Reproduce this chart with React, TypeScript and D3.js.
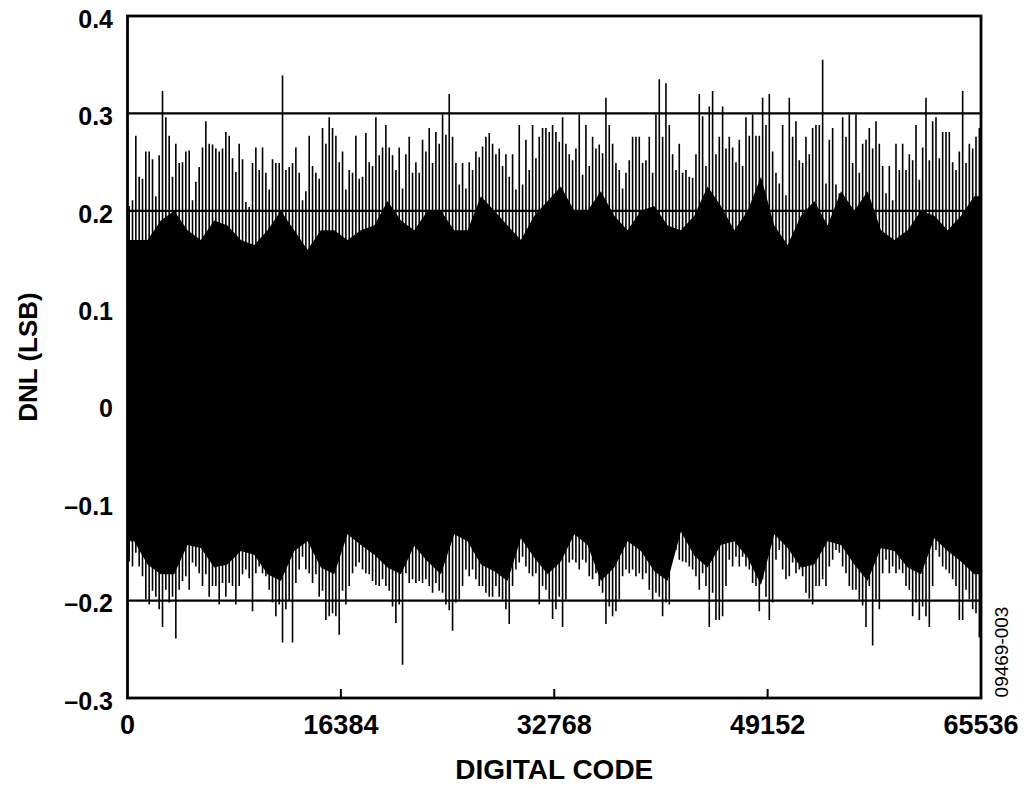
import React from 'react';
import * as d3 from 'd3';

// ---- data (DNL in LSB) ----
const CODE_MAX = 65536;
const BIN_CODES = 256; // each peak value covers 256 codes
const CORE_CODES = 1024; // each core value covers 1024 codes

const X_TICKS = [0, 16384, 32768, 49152, 65536];
const X_TICK_LABELS = ['0', '16384', '32768', '49152', '65536'];
const Y_TICKS = [-0.3, -0.2, -0.1, 0, 0.1, 0.2, 0.3, 0.4];
const Y_TICK_LABELS = ['–0.3', '–0.2', '–0.1', '0', '0.1', '0.2', '0.3', '0.4'];
const GRID_VALUES = [-0.2, -0.1, 0, 0.1, 0.2, 0.3];

// maximum DNL in each 256-code bin
const upperPeaks = [
  0.205, 0.211, 0.277, 0.235, 0.233, 0.261, 0.261, 0.253, 0.215, 0.257,
  0.323, 0.296, 0.277, 0.235, 0.269, 0.249, 0.250, 0.261, 0.262, 0.211,
  0.230, 0.245, 0.265, 0.292, 0.269, 0.268, 0.264, 0.261, 0.264, 0.281,
  0.277, 0.254, 0.240, 0.269, 0.253, 0.209, 0.204, 0.249, 0.265, 0.242,
  0.265, 0.239, 0.222, 0.253, 0.249, 0.249, 0.339, 0.242, 0.245, 0.249,
  0.265, 0.239, 0.211, 0.220, 0.277, 0.246, 0.239, 0.233, 0.285, 0.269,
  0.296, 0.285, 0.277, 0.250, 0.261, 0.222, 0.242, 0.239, 0.277, 0.233,
  0.235, 0.280, 0.250, 0.246, 0.296, 0.257, 0.265, 0.288, 0.265, 0.257,
  0.242, 0.265, 0.223, 0.258, 0.276, 0.239, 0.250, 0.239, 0.273, 0.261,
  0.285, 0.249, 0.281, 0.269, 0.299, 0.278, 0.320, 0.276, 0.249, 0.227,
  0.249, 0.223, 0.250, 0.242, 0.261, 0.255, 0.266, 0.276, 0.280, 0.269,
  0.258, 0.264, 0.246, 0.258, 0.235, 0.258, 0.222, 0.288, 0.227, 0.273,
  0.242, 0.288, 0.254, 0.276, 0.285, 0.285, 0.281, 0.288, 0.281, 0.271,
  0.296, 0.269, 0.258, 0.252, 0.264, 0.299, 0.237, 0.288, 0.246, 0.276,
  0.264, 0.268, 0.259, 0.316, 0.288, 0.269, 0.249, 0.242, 0.223, 0.239,
  0.252, 0.276, 0.276, 0.276, 0.249, 0.252, 0.276, 0.239, 0.299, 0.335,
  0.276, 0.331, 0.288, 0.258, 0.242, 0.269, 0.239, 0.242, 0.235, 0.234,
  0.258, 0.320, 0.297, 0.246, 0.307, 0.323, 0.258, 0.276, 0.307, 0.264,
  0.276, 0.265, 0.250, 0.273, 0.246, 0.296, 0.277, 0.299, 0.277, 0.277,
  0.316, 0.288, 0.320, 0.261, 0.239, 0.228, 0.288, 0.216, 0.316, 0.276,
  0.292, 0.252, 0.249, 0.276, 0.258, 0.285, 0.288, 0.288, 0.355, 0.228,
  0.273, 0.285, 0.227, 0.218, 0.296, 0.276, 0.299, 0.249, 0.299, 0.239,
  0.269, 0.273, 0.285, 0.264, 0.292, 0.269, 0.246, 0.218, 0.246, 0.211,
  0.269, 0.242, 0.269, 0.242, 0.258, 0.252, 0.288, 0.232, 0.265, 0.316,
  0.252, 0.292, 0.296, 0.254, 0.281, 0.281, 0.281, 0.250, 0.242, 0.261,
  0.323, 0.249, 0.269, 0.264, 0.276, 0.285,
];

// minimum DNL in each 256-code bin
const lowerPeaks = [
  -0.160, -0.165, -0.151, -0.165, -0.175, -0.199, -0.204, -0.190, -0.196, -0.209,
  -0.227, -0.189, -0.202, -0.196, -0.239, -0.189, -0.180, -0.175, -0.189, -0.161,
  -0.165, -0.172, -0.185, -0.173, -0.196, -0.185, -0.185, -0.204, -0.182, -0.196,
  -0.182, -0.185, -0.204, -0.185, -0.173, -0.168, -0.177, -0.211, -0.172, -0.165,
  -0.172, -0.175, -0.189, -0.202, -0.216, -0.204, -0.243, -0.209, -0.200, -0.243,
  -0.182, -0.168, -0.155, -0.168, -0.172, -0.182, -0.173, -0.196, -0.190, -0.220,
  -0.216, -0.213, -0.216, -0.235, -0.190, -0.204, -0.185, -0.172, -0.165, -0.161,
  -0.168, -0.172, -0.173, -0.180, -0.184, -0.185, -0.178, -0.185, -0.190, -0.206,
  -0.223, -0.204, -0.266, -0.172, -0.182, -0.178, -0.182, -0.180, -0.182, -0.178,
  -0.185, -0.192, -0.182, -0.190, -0.192, -0.204, -0.210, -0.231, -0.202, -0.199,
  -0.185, -0.168, -0.175, -0.168, -0.178, -0.185, -0.185, -0.192, -0.196, -0.196,
  -0.185, -0.196, -0.199, -0.209, -0.224, -0.185, -0.168, -0.161, -0.155, -0.165,
  -0.172, -0.175, -0.172, -0.204, -0.185, -0.189, -0.199, -0.219, -0.209, -0.196,
  -0.227, -0.199, -0.161, -0.158, -0.161, -0.168, -0.158, -0.161, -0.175, -0.178,
  -0.172, -0.185, -0.192, -0.224, -0.206, -0.216, -0.211, -0.199, -0.175, -0.168,
  -0.172, -0.168, -0.175, -0.172, -0.178, -0.172, -0.189, -0.199, -0.192, -0.196,
  -0.216, -0.202, -0.204, -0.155, -0.148, -0.158, -0.160, -0.161, -0.165, -0.168,
  -0.175, -0.189, -0.172, -0.185, -0.227, -0.192, -0.220, -0.220, -0.216, -0.185,
  -0.158, -0.165, -0.155, -0.165, -0.155, -0.165, -0.168, -0.182, -0.185, -0.211,
  -0.178, -0.196, -0.220, -0.202, -0.158, -0.148, -0.168, -0.178, -0.175, -0.161,
  -0.172, -0.168, -0.175, -0.192, -0.198, -0.204, -0.185, -0.185, -0.178, -0.185,
  -0.165, -0.158, -0.148, -0.151, -0.165, -0.172, -0.185, -0.189, -0.189, -0.199,
  -0.205, -0.227, -0.185, -0.246, -0.199, -0.209, -0.172, -0.158, -0.172, -0.165,
  -0.172, -0.168, -0.172, -0.185, -0.189, -0.216, -0.202, -0.220, -0.206, -0.216,
  -0.227, -0.185, -0.148, -0.155, -0.165, -0.168, -0.172, -0.178, -0.185, -0.220,
  -0.220, -0.189, -0.199, -0.209, -0.213, -0.238,
];

// top of the fully dense body of codes, per 1024-code block
const coreTop = [
  0.170, 0.170, 0.190, 0.200, 0.180, 0.170, 0.190, 0.185, 0.170, 0.165,
  0.180, 0.200, 0.180, 0.160, 0.180, 0.180, 0.170, 0.180, 0.185, 0.210,
  0.190, 0.180, 0.200, 0.200, 0.180, 0.180, 0.215, 0.200, 0.185, 0.170,
  0.195, 0.210, 0.225, 0.200, 0.200, 0.220, 0.195, 0.180, 0.200, 0.205,
  0.185, 0.180, 0.195, 0.225, 0.205, 0.180, 0.200, 0.235, 0.185, 0.165,
  0.195, 0.210, 0.185, 0.220, 0.200, 0.220, 0.180, 0.170, 0.180, 0.200,
  0.195, 0.180, 0.195, 0.215,
];

// bottom of the fully dense body of codes, per 1024-code block
const coreBottom = [
  -0.139, -0.163, -0.173, -0.173, -0.143, -0.146, -0.166, -0.163, -0.149, -0.153,
  -0.173, -0.180, -0.149, -0.139, -0.166, -0.173, -0.132, -0.143, -0.153, -0.166,
  -0.173, -0.144, -0.160, -0.173, -0.132, -0.139, -0.163, -0.170, -0.180, -0.136,
  -0.156, -0.173, -0.160, -0.132, -0.143, -0.180, -0.166, -0.139, -0.149, -0.170,
  -0.180, -0.129, -0.154, -0.166, -0.143, -0.139, -0.156, -0.184, -0.132, -0.146,
  -0.166, -0.163, -0.139, -0.143, -0.163, -0.180, -0.146, -0.149, -0.166, -0.173,
  -0.136, -0.149, -0.160, -0.173,
];

// ---- layout ----
const W = 1024;
const H = 788;
const PLOT = { left: 127.5, right: 981, top: 16, bottom: 698 };
const FONT = "'Liberation Sans', Arial, Helvetica, sans-serif";

export default function App() {
  const x = d3.scaleLinear().domain([0, CODE_MAX]).range([PLOT.left, PLOT.right]);
  const y = d3.scaleLinear().domain([-0.3, 0.4]).range([PLOT.bottom, PLOT.top]);

  const corePts = coreTop.map((t, k) => ({ code: (k + 0.5) * CORE_CODES, top: t, bot: coreBottom[k] }));
  const coreData = [
    { code: 0, top: coreTop[0], bot: coreBottom[0] },
    ...corePts,
    { code: CODE_MAX, top: coreTop[coreTop.length - 1], bot: coreBottom[coreBottom.length - 1] },
  ];
  const area = d3
    .area<{ code: number; top: number; bot: number }>()
    .x((d) => x(d.code))
    .y0((d) => y(d.bot))
    .y1((d) => y(d.top));

  const bins = upperPeaks.map((u, i) => ({ code: (i + 0.5) * BIN_CODES, hi: u, lo: lowerPeaks[i] }));

  return (
    <svg
      width={W}
      height={H}
      viewBox={`0 0 ${W} ${H}`}
      style={{ position: 'absolute', left: 0, top: 0, background: '#fff' }}
      fontFamily={FONT}
    >
      <defs>
        <clipPath id="plotClip">
          <rect x={PLOT.left} y={PLOT.top} width={PLOT.right - PLOT.left} height={PLOT.bottom - PLOT.top} />
        </clipPath>
      </defs>

      <g clipPath="url(#plotClip)">
        <path d={area(coreData) || ''} fill="#000" />
        {bins.map((b, i) => (
          <line
            key={i}
            x1={x(b.code)}
            x2={x(b.code)}
            y1={y(b.lo)}
            y2={y(b.hi)}
            stroke="#000"
            strokeWidth={1.6}
          />
        ))}
      </g>

      {/* grid lines */}
      {GRID_VALUES.map((v) => (
        <line key={v} x1={PLOT.left} x2={PLOT.right} y1={y(v)} y2={y(v)} stroke="#000" strokeWidth={2.2} />
      ))}

      {/* x ticks (inside) */}
      {X_TICKS.slice(1, -1).map((t) => (
        <line key={t} x1={x(t)} x2={x(t)} y1={PLOT.bottom} y2={PLOT.bottom - 9} stroke="#000" strokeWidth={2} />
      ))}

      {/* frame */}
      <rect
        x={PLOT.left}
        y={PLOT.top}
        width={PLOT.right - PLOT.left}
        height={PLOT.bottom - PLOT.top}
        fill="none"
        stroke="#000"
        strokeWidth={2.8}
      />

      {/* y tick labels */}
      {Y_TICKS.map((t, i) => (
        <text
          key={t}
          x={113}
          y={y(t) + 3}
          dy="0.35em"
          textAnchor="end"
          fontSize={25}
          fontWeight="bold"
        >
          {Y_TICK_LABELS[i]}
        </text>
      ))}

      {/* x tick labels */}
      {X_TICKS.map((t, i) => (
        <text key={t} x={x(t)} y={734} textAnchor="middle" fontSize={27} fontWeight="bold">
          {X_TICK_LABELS[i]}
        </text>
      ))}

      <text x={(PLOT.left + PLOT.right) / 2} y={779} textAnchor="middle" fontSize={28} fontWeight="bold">
        DIGITAL CODE
      </text>
      <text
        transform={`translate(37, ${(PLOT.top + PLOT.bottom) / 2}) rotate(-90)`}
        textAnchor="middle"
        fontSize={26}
        fontWeight="bold"
      >
        DNL (LSB)
      </text>
      <text transform="translate(1008, 652) rotate(-90)" textAnchor="middle" fontSize={19}>
        09469-003
      </text>
    </svg>
  );
}
